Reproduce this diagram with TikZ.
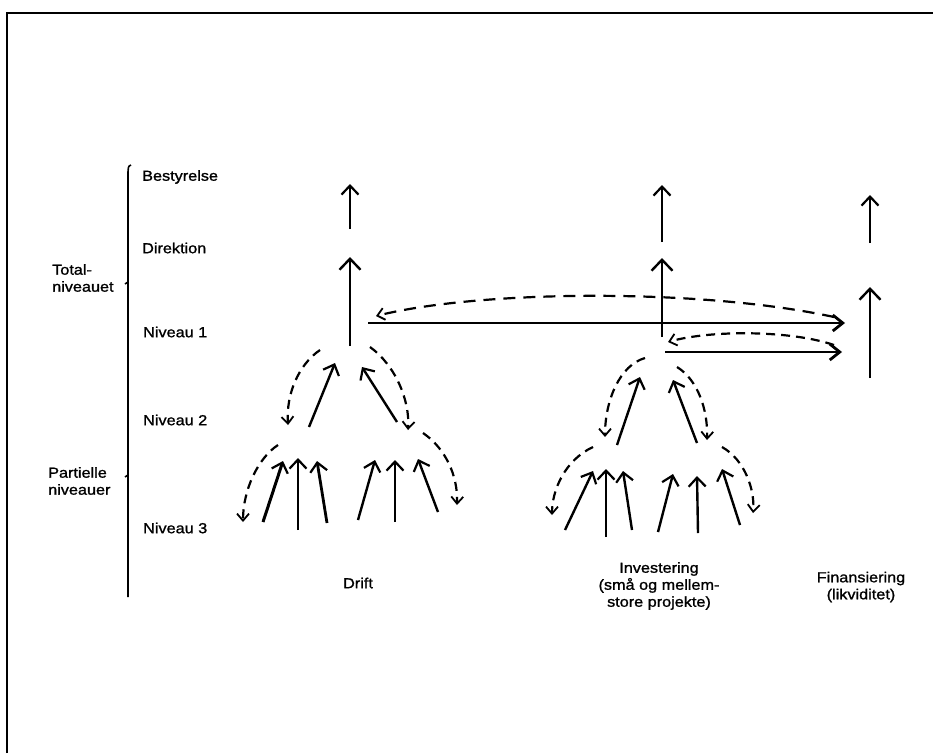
\documentclass[tikz,border=0pt]{standalone}
\usepackage{fontspec}
\setmainfont{Liberation Sans}[FakeStretch=1.12,FakeBold=1.2]
\usetikzlibrary{arrows.meta}
\tikzset{
  lab/.style={font=\fontsize{14.5}{17}\selectfont, inner sep=0pt},
  frameline/.style={line width=2pt},
  sarr/.style={line width=2.4pt, -{Straight Barb[length=9pt,width=17pt,line width=2.2pt]}},
  bigarr/.style={line width=2.5pt, -{Straight Barb[length=11pt,width=21pt,line width=2.4pt]}},
  harr/.style={line width=2.8pt, -{Straight Barb[length=10pt,width=16pt,line width=2.8pt]}},
  darr/.style={line width=2.2pt, dash pattern=on 9pt off 6pt, -{Straight Barb[length=7pt,width=12pt,line width=1.8pt]}},
  ldarr/.style={line width=2.2pt, dash pattern=on 12pt off 8pt, -{Straight Barb[length=7pt,width=12pt,line width=1.8pt]}},
}
\begin{document}
\begin{tikzpicture}[x=1pt,y=-1pt]
\useasboundingbox (0,0) rectangle (933,753);
% frame (scan edge)
\coordinate (fbl) at (7,753);
\coordinate (ftl) at (7,13);
\coordinate (ftr) at (933,13);
\draw[frameline] (fbl) -- (ftl) -- (ftr);
% bracket
\coordinate (b0) at (131,165);
\coordinate (b1) at (128,172);
\coordinate (b2) at (128,597);
\draw[line width=1.6pt] (b0) to[out=190,in=90] (b1) -- (b2);
\coordinate (t1a) at (128,282); \coordinate (t1b) at (125,284);
\coordinate (t2a) at (128,475); \coordinate (t2b) at (125,477);
\draw[line width=1.6pt] (t1a) -- (t1b) (t2a) -- (t2b);
% level labels
\node[lab, anchor=west] (lbest) at (142,177) {Bestyrelse};
\node[lab, anchor=west] (ldir) at (142,248) {Direktion};
\node[lab, anchor=west] (ln1) at (143,332) {Niveau 1};
\node[lab, anchor=west] (ln2) at (143,420) {Niveau 2};
\node[lab, anchor=west] (ln3) at (143,528) {Niveau 3};
\node[lab, anchor=west, align=left] (ltot) at (52,278) {Total-\\niveauet};
\node[lab, anchor=west, align=left] (lpart) at (48,481) {Partielle\\niveauer};
% column labels
\node[lab] (ldrift) at (358,583) {Drift};
\node[lab, align=center] (linv) at (659,586) {Investering\\(små og mellem-\\store projekte)};
\node[lab, align=center] (lfin) at (861,587) {Finansiering\\(likviditet)};

% ---------- Drift column ----------
\coordinate (d1s) at (350,229); \coordinate (d1e) at (350,184);
\coordinate (d2s) at (350,346); \coordinate (d2e) at (350,257);
\draw[sarr] (d1s) -- (d1e);
\draw[bigarr] (d2s) -- (d2e);
% ---------- Investering column ----------
\coordinate (i1s) at (662,242); \coordinate (i1e) at (662,185);
\coordinate (i2s) at (662,337); \coordinate (i2e) at (662,258);
\draw[sarr] (i1s) -- (i1e);
\draw[bigarr] (i2s) -- (i2e);
% ---------- Finansiering column ----------
\coordinate (f1s) at (870,243); \coordinate (f1e) at (870,195);
\coordinate (f2s) at (870,378); \coordinate (f2e) at (870,287);
\draw[sarr] (f1s) -- (f1e);
\draw[bigarr] (f2s) -- (f2e);

% horizontal flows
\coordinate (h1s) at (368,323); \coordinate (h1e) at (845,323);
\draw[harr] (h1s) -- (h1e);
\coordinate (h2s) at (665,352); \coordinate (h2e) at (842,352);
\draw[harr] (h2s) -- (h2e);
\coordinate (hd1s) at (834,317); \coordinate (hd1e) at (376,316);
\draw[ldarr] (hd1s) .. controls (700,288) and (480,290) .. (hd1e);
\coordinate (hd2s) at (834,345); \coordinate (hd2e) at (668,342);
\draw[darr] (hd2s) .. controls (790,330) and (710,330) .. (hd2e);

% ---------- Drift tree ----------
\coordinate (da1) at (320,350); \coordinate (da2) at (288,425);
\draw[darr] (da1) .. controls (298,365) and (286,395) .. (da2);
\coordinate (db1) at (370,347); \coordinate (db2) at (408,430);
\draw[darr] (db1) .. controls (395,365) and (410,400) .. (db2);
\coordinate (ds1) at (309,427); \coordinate (ds2) at (335,363);
\draw[sarr] (ds1) -- (ds2);
\coordinate (ds3) at (397,422); \coordinate (ds4) at (362,367);
\draw[sarr] (ds3) -- (ds4);
% level 3 left group
\coordinate (dc1) at (278,445); \coordinate (dc2) at (243,522);
\draw[darr] (dc1) .. controls (258,458) and (243,490) .. (dc2);
\coordinate (dl1) at (263,522); \coordinate (dl2) at (283,461);
\draw[sarr, line width=3pt] (dl1) -- (dl2);
\coordinate (dl3) at (298,530); \coordinate (dl4) at (298,458);
\draw[sarr] (dl3) -- (dl4);
\coordinate (dl5) at (327,523); \coordinate (dl6) at (317,461);
\draw[sarr, line width=2.8pt] (dl5) -- (dl6);
% level 3 right group
\coordinate (dr1) at (358,520); \coordinate (dr2) at (375,460);
\draw[sarr] (dr1) -- (dr2);
\coordinate (dr3) at (395,522); \coordinate (dr4) at (395,460);
\draw[sarr] (dr3) -- (dr4);
\coordinate (dr5) at (438,512); \coordinate (dr6) at (418,459);
\draw[sarr] (dr5) -- (dr6);
\coordinate (dd1) at (423,433); \coordinate (dd2) at (457,505);
\draw[darr] (dd1) .. controls (445,448) and (458,475) .. (dd2);

% ---------- Investering tree ----------
\coordinate (ia1) at (645,358); \coordinate (ia2) at (605,437);
\draw[darr] (ia1) .. controls (620,365) and (605,400) .. (ia2);
\coordinate (ib1) at (677,367); \coordinate (ib2) at (707,440);
\draw[darr] (ib1) .. controls (698,380) and (708,410) .. (ib2);
\coordinate (is1) at (617,445); \coordinate (is2) at (640,377);
\draw[sarr] (is1) -- (is2);
\coordinate (is3) at (697,443); \coordinate (is4) at (673,380);
\draw[sarr] (is3) -- (is4);
% level 3 left group
\coordinate (ic1) at (593,447); \coordinate (ic2) at (552,515);
\draw[darr] (ic1) .. controls (565,460) and (552,490) .. (ic2);
\coordinate (il1) at (565,530); \coordinate (il2) at (593,471);
\draw[sarr] (il1) -- (il2);
\coordinate (il3) at (606,537); \coordinate (il4) at (606,469);
\draw[sarr] (il3) -- (il4);
\coordinate (il5) at (632,530); \coordinate (il6) at (623,471);
\draw[sarr] (il5) -- (il6);
% level 3 right group
\coordinate (ir1) at (658,532); \coordinate (ir2) at (673,474);
\draw[sarr] (ir1) -- (ir2);
\coordinate (ir3) at (698,533); \coordinate (ir4) at (697,476);
\draw[sarr] (ir3) -- (ir4);
\coordinate (ir5) at (740,525); \coordinate (ir6) at (722,469);
\draw[sarr] (ir5) -- (ir6);
\coordinate (id1) at (722,447); \coordinate (id2) at (753,513);
\draw[darr] (id1) .. controls (745,460) and (755,490) .. (id2);
\end{tikzpicture}
\end{document}
